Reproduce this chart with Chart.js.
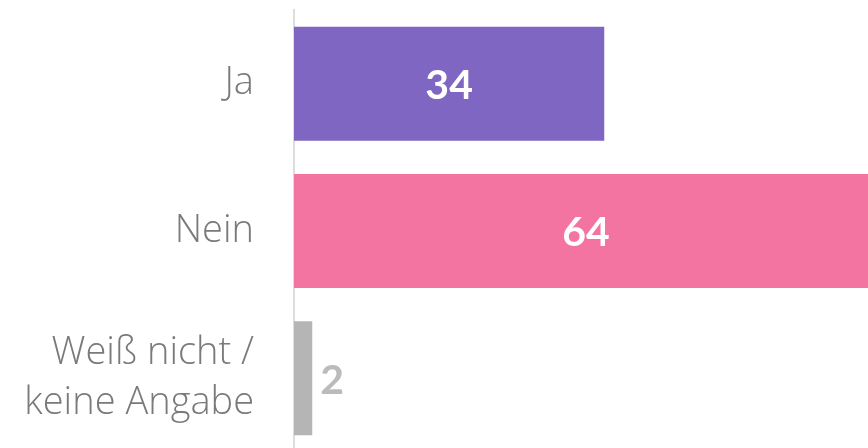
<!DOCTYPE html>
<html>
<head>
<meta charset="utf-8">
<script src="https://cdn.jsdelivr.net/npm/chart.js@4/dist/chart.umd.min.js"></script>
<style>
  html, body { margin: 0; padding: 0; background: #fff; overflow: hidden; }
  #wrap { width: 878px; height: 452px; position: relative; }
</style>
</head>
<body>
<div id="wrap"><canvas id="barChart"></canvas></div>
<script>
const categories = ["Ja", "Nein", ["Weiß nicht /", "keine Angabe"]];
const values = [34, 64, 2];
const barColors = ["#7e66c2", "#f374a1", "#b5b5b5"];

// draws the numbers inside the bars (or just after a short bar)
const valueLabels = {
    id: "valueLabels",
    afterDatasetsDraw(chart) {
        const ctx = chart.ctx;
        const meta = chart.getDatasetMeta(0);
        ctx.save();
        ctx.font = "bold 41px Lato";
        ctx.textBaseline = "middle";
        meta.data.forEach((bar, i) => {
            const text = String(values[i]);
            const w = ctx.measureText(text).width;
            const len = bar.x - bar.base;
            if (len > w + 20) {
                ctx.fillStyle = "#ffffff";
                ctx.textAlign = "center";
                ctx.fillText(text, (bar.x + bar.base) / 2, bar.y + 2);
            } else {
                ctx.fillStyle = "#bbbbbb";
                ctx.textAlign = "left";
                ctx.fillText(text, bar.x + 8, bar.y + 2);
            }
        });
        ctx.restore();
    }
};

const ctx = document.getElementById("barChart").getContext("2d");
new Chart(ctx, {
    type: "bar",
    data: {
        labels: categories,
        datasets: [
            {
                data: values,
                backgroundColor: barColors,
                borderWidth: 0,
                barPercentage: 0.774,
                categoryPercentage: 1,
            },
        ],
    },
    options: {
        indexAxis: "y",
        responsive: true,
        maintainAspectRatio: false,
        animation: false,
        layout: { autoPadding: false, padding: { top: 10, right: 0, bottom: 0, left: 0 } },
        scales: {
            x: {
                display: false,
                min: 0,
                max: 64,
            },
            y: {
                grid: { display: false, drawTicks: false },
                border: { display: true, color: "#dddddd", width: 2 },
                ticks: {
                    color: "#7a7a7a",
                    padding: 40,
                    font: { family: "'Open Sans'", size: 38, weight: 300, lineHeight: 1.33 },
                },
                afterFit(scale) {
                    scale.width = 294;
                    scale.paddingTop = 0;
                    scale.paddingBottom = 0;
                },
            },
        },
        plugins: {
            legend: { display: false },
            tooltip: { enabled: false },
        },
    },
    plugins: [valueLabels],
});
</script>
</body>
</html>
